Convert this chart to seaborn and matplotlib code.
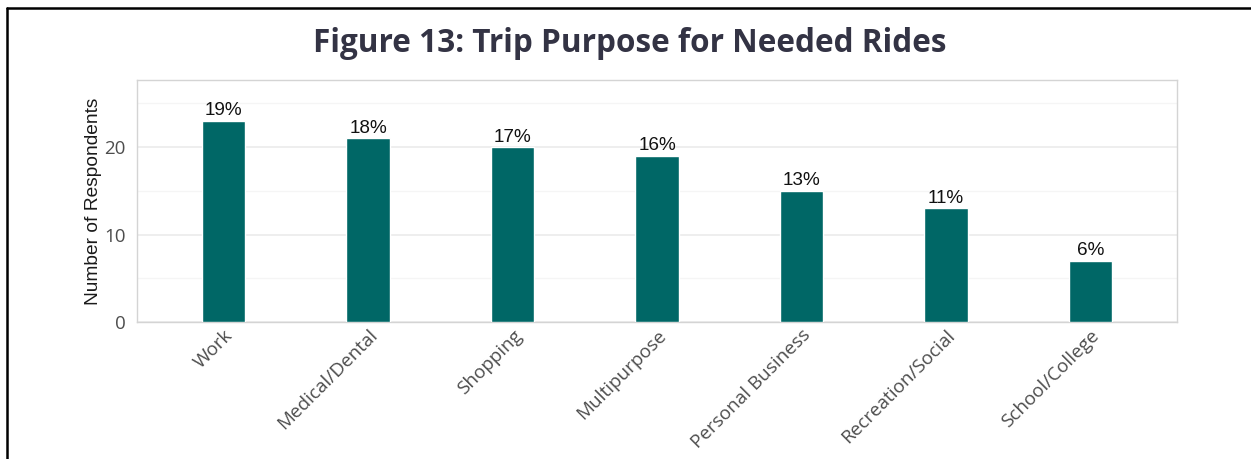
import matplotlib
matplotlib.use("Agg")
import matplotlib.pyplot as plt
from matplotlib.lines import Line2D
import seaborn as sns
import pandas as pd

# Trip purposes and respondent counts
purposes = ["Work", "Medical/Dental", "Shopping", "Multipurpose",
            "Personal Business", "Recreation/Social", "School/College"]
respondents = [23, 21, 20, 19, 15, 13, 7]
share_labels = ["19%", "18%", "17%", "16%", "13%", "11%", "6%"]

df = pd.DataFrame({"purpose": purposes, "count": respondents})

sns.set_theme(style="white")
bar_color = "#006766"

fig = plt.figure(figsize=(12.51, 4.59), dpi=100)
ax = fig.add_axes([137 / 1251, 1 - 322 / 459, (1177 - 137) / 1251, (322 - 80) / 459])

sns.barplot(data=df, x="purpose", y="count", color=bar_color, width=0.3,
            saturation=1, ax=ax, zorder=3)

ax.set_xlim(-0.6, len(purposes) - 0.4)
ax.set_ylim(0, 27.66)
ax.set_yticks([0, 10, 20])
ax.set_yticks([5, 15, 25], minor=True)
ax.grid(True, which="major", axis="y", color="#ebebeb", linewidth=1.2, zorder=0)
ax.grid(True, which="minor", axis="y", color="#f5f5f5", linewidth=1.0, zorder=0)
ax.tick_params(axis="y", which="both", length=0, labelsize=13.5,
               labelcolor="#4d4d4d", pad=8)
ax.tick_params(axis="x", length=0, pad=3)

for spine in ax.spines.values():
    spine.set_color("#d4d4d4")
    spine.set_linewidth(1.0)

ax.set_xlabel("")
ax.set_ylabel("Number of Respondents", fontsize=13.8, color="#1a1a1a",
              family="Liberation Sans", labelpad=2)
for lab in ax.get_yticklabels():
    lab.set_family("Open Sans")
ax.set_xticks(range(len(purposes)))
ax.set_xticklabels(purposes, rotation=45, ha="right", rotation_mode="anchor",
                   fontsize=13.6, color="#4d4d4d", family="Open Sans")

for container in ax.containers:
    ax.bar_label(container, labels=share_labels, padding=1, fontsize=13.6,
                 color="#111111", family="Liberation Sans")

fig.text(0.503, 1 - 43 / 459, "Figure 13: Trip Purpose for Needed Rides",
         ha="center", va="center", fontsize=22.7, fontweight="bold",
         color="#333344", family="Open Sans")

# Page frame (left and top edges)
fig.add_artist(Line2D([6.5 / 1251, 6.5 / 1251], [0, 1 - 7.5 / 459],
                      transform=fig.transFigure, color="black", linewidth=1.8))
fig.add_artist(Line2D([6.5 / 1251, 1], [1 - 7.5 / 459, 1 - 7.5 / 459],
                      transform=fig.transFigure, color="black", linewidth=1.8))

fig.savefig("out.png", dpi=100, facecolor="white")
